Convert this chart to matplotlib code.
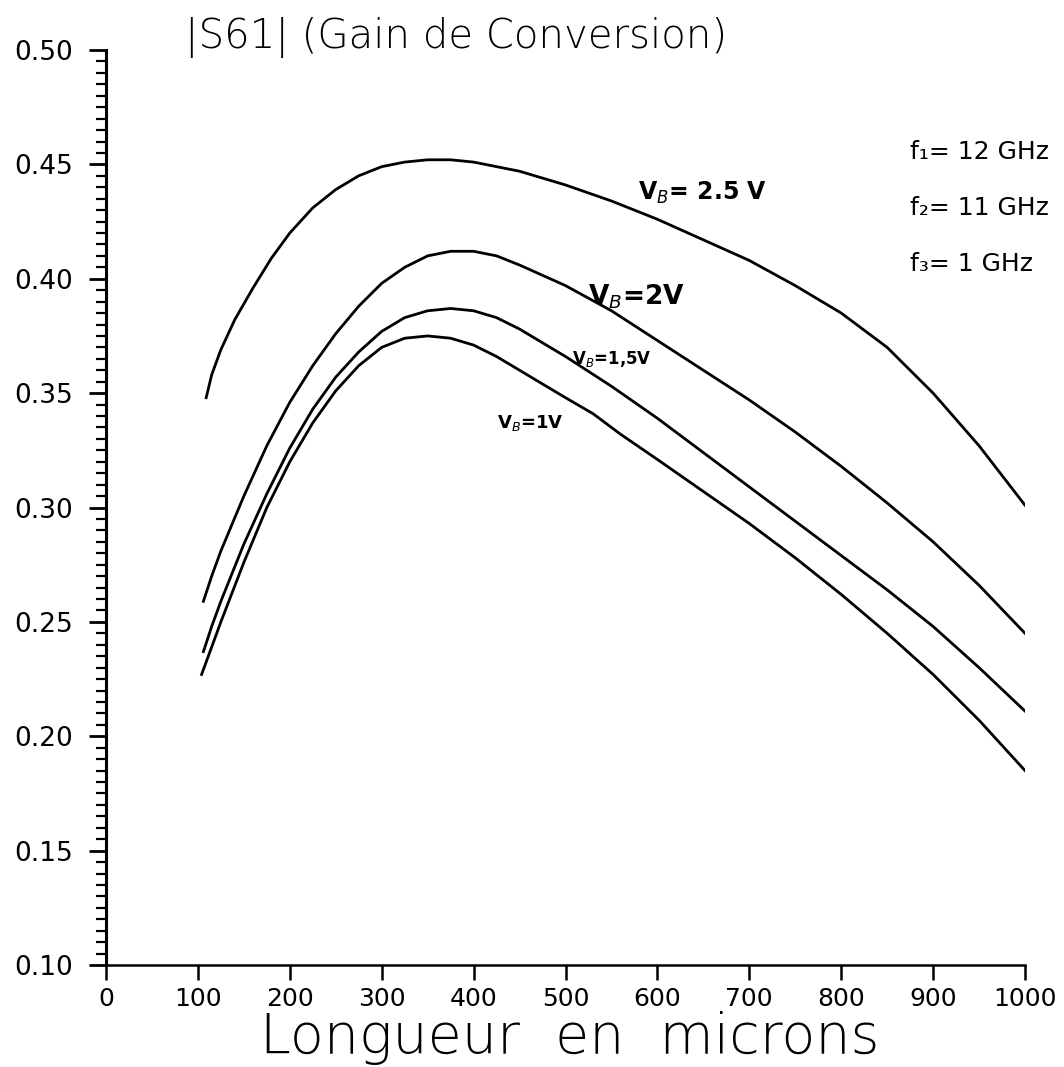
import matplotlib
matplotlib.use("Agg")
import matplotlib.pyplot as plt
from matplotlib.ticker import MultipleLocator

# --- Daten ---
x_25 = [109, 115, 125, 140, 160, 180, 200, 225, 250, 275, 300, 325, 350, 375, 400, 450, 500, 550, 600, 650, 700, 750, 800, 850, 900, 950, 1000]
y_25 = [0.348, 0.358, 0.369, 0.382, 0.396, 0.409, 0.420, 0.431, 0.439, 0.445, 0.449, 0.451, 0.452, 0.452, 0.451, 0.447, 0.441, 0.434, 0.426, 0.417, 0.408, 0.397, 0.385, 0.370, 0.350, 0.327, 0.301]

x_20 = [106, 115, 125, 150, 175, 200, 225, 250, 275, 300, 325, 350, 375, 400, 425, 450, 500, 550, 600, 650, 700, 750, 800, 850, 900, 950, 1000]
y_20 = [0.259, 0.270, 0.281, 0.305, 0.327, 0.346, 0.362, 0.376, 0.388, 0.398, 0.405, 0.410, 0.412, 0.412, 0.410, 0.406, 0.397, 0.386, 0.373, 0.360, 0.347, 0.333, 0.318, 0.302, 0.285, 0.266, 0.245]

x_15 = [106, 115, 125, 150, 175, 200, 225, 250, 275, 300, 325, 350, 375, 400, 425, 450, 500, 550, 600, 650, 700, 750, 800, 850, 900, 950, 1000]
y_15 = [0.237, 0.248, 0.259, 0.284, 0.306, 0.326, 0.343, 0.357, 0.368, 0.377, 0.383, 0.386, 0.387, 0.386, 0.383, 0.378, 0.366, 0.353, 0.339, 0.324, 0.309, 0.294, 0.279, 0.264, 0.248, 0.230, 0.211]

x_10 = [104, 115, 125, 150, 175, 200, 225, 250, 275, 300, 325, 350, 375, 400, 425, 450, 500, 530, 560, 600, 650, 700, 750, 800, 850, 900, 950, 1000]
y_10 = [0.227, 0.239, 0.250, 0.276, 0.300, 0.320, 0.337, 0.351, 0.362, 0.370, 0.374, 0.375, 0.374, 0.371, 0.366, 0.360, 0.348, 0.341, 0.332, 0.321, 0.307, 0.293, 0.278, 0.262, 0.245, 0.227, 0.207, 0.185]

x_ticks = [0, 100, 200, 300, 400, 500, 600, 700, 800, 900, 1000]
y_ticks = [0.10, 0.15, 0.20, 0.25, 0.30, 0.35, 0.40, 0.45, 0.50]
freq_labels = ["f₁= 12 GHz", "f₂= 11 GHz", "f₃= 1 GHz"]

# --- Figur ---
fig = plt.figure(figsize=(10.64, 10.67), dpi=100)
ax = fig.add_axes([106 / 1064, 1 - 965 / 1067, (1025 - 106) / 1064, (965 - 50) / 1067])

for xs, ys in [(x_25, y_25), (x_20, y_20), (x_15, y_15), (x_10, y_10)]:
    ax.plot(xs, ys, color="black", linewidth=2.0, solid_joinstyle="round")

ax.set_xlim(0, 1000)
ax.set_ylim(0.10, 0.50)
ax.spines["top"].set_visible(False)
ax.spines["right"].set_visible(False)
ax.spines["left"].set_linewidth(2.2)
ax.spines["bottom"].set_linewidth(1.8)

ax.set_xticks(x_ticks)
ax.set_yticks(y_ticks)
ax.set_yticklabels([f"{v:.2f}" for v in y_ticks])
ax.yaxis.set_minor_locator(MultipleLocator(0.005))
ax.tick_params(axis="x", direction="out", length=11, width=1.8, pad=5, labelsize=18)
ax.tick_params(axis="y", which="major", direction="out", length=12, width=2.0, pad=12, labelsize=19)
ax.tick_params(axis="y", which="minor", direction="out", length=7, width=1.6)

fig.text(185 / 1064, 1 - 38 / 1067, "|S61| (Gain de Conversion)", ha="left", va="center",
         fontsize=29, fontweight="light")
fig.text(570 / 1064, 1 - 1038 / 1067, "Longueur  en  microns", ha="center", va="center",
         fontsize=40, fontweight="light")

# Kurvenbeschriftungen
ax.text(649, 0.4377, "V$_B$= 2.5 V", ha="center", va="center", fontsize=17, fontweight="bold")
ax.text(577, 0.392, "V$_B$=2V", ha="center", va="center", fontsize=19, fontweight="bold")
ax.text(550, 0.365, "V$_B$=1,5V", ha="center", va="center", fontsize=12, fontweight="bold")
ax.text(462, 0.337, "V$_B$=1V", ha="center", va="center", fontsize=13, fontweight="bold")

for i, lab in enumerate(freq_labels):
    fig.text(910 / 1064, 1 - (152 + 56 * i) / 1067, lab, ha="left", va="center", fontsize=18)

fig.savefig("out.png", dpi=100)
